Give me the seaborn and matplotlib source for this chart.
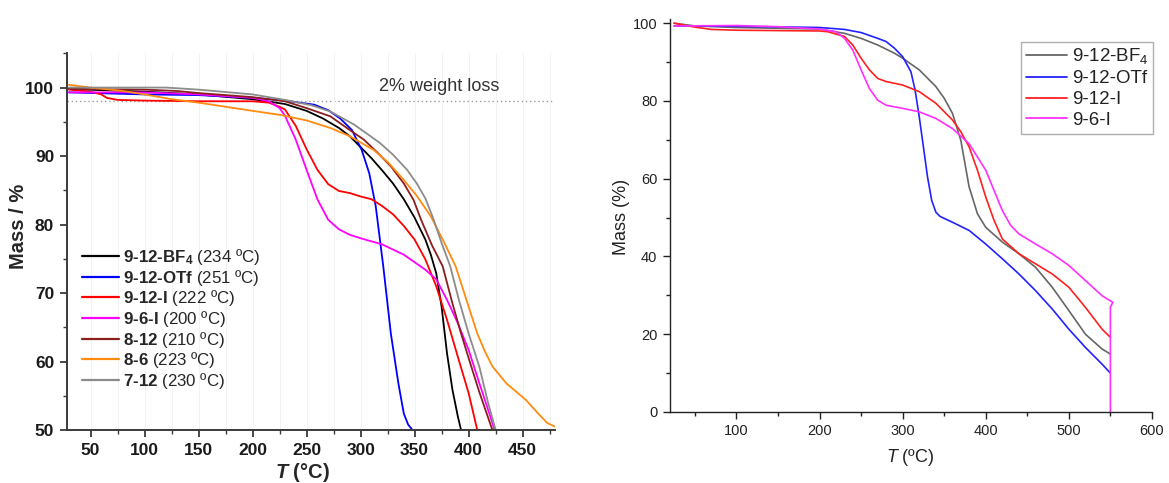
import matplotlib
matplotlib.use("Agg")
import matplotlib.pyplot as plt
from matplotlib.ticker import MultipleLocator
import pandas as pd
import seaborn as sns

# ---------------- data: TGA traces (temperature in °C, residual mass in %) ----------------
# Panel (a): all salts, 30-480 °C
bf4_T = [30, 100, 150, 200, 230, 250, 265, 280, 290, 300, 310, 320, 330, 340, 350, 360, 365, 370, 375, 380, 385, 390, 393]
bf4_m = [99.8, 99.4, 99.0, 98.3, 97.6, 96.6, 95.5, 94.1, 92.9, 91.3, 89.7, 87.9, 86.0, 83.7, 81.0, 77.8, 75.6, 72.9, 68.0, 61.2, 55.9, 52.0, 50.0]

otf_T = [30, 100, 150, 200, 230, 257, 270, 281, 292, 301, 308, 314, 321, 328, 335, 340, 344, 348]
otf_m = [99.3, 99.0, 98.9, 98.5, 98.1, 97.5, 96.7, 95.5, 93.8, 90.9, 87.5, 82.7, 73.9, 64.1, 56.8, 52.4, 50.8, 50.0]

i12_T = [30, 50, 60, 65, 75, 100, 150, 200, 215, 225, 230, 240, 250, 260, 270, 280, 290, 300, 310, 320, 330, 340, 350, 360, 370, 380, 390, 400, 408]
i12_m = [99.7, 99.4, 99.0, 98.5, 98.2, 98.1, 98.0, 98.0, 97.8, 97.2, 96.8, 94.4, 91.0, 88.0, 85.9, 84.9, 84.6, 84.1, 83.7, 82.7, 81.5, 79.8, 77.8, 74.9, 71.0, 66.1, 60.7, 55.4, 50.0]

i6_T = [30, 100, 150, 200, 215, 225, 230, 240, 250, 260, 270, 280, 290, 300, 320, 340, 360, 370, 380, 390, 400, 410, 420, 424]
i6_m = [99.3, 99.3, 99.0, 98.5, 98.0, 97.0, 95.9, 92.4, 88.0, 83.7, 80.7, 79.3, 78.5, 78.0, 77.1, 75.6, 73.4, 72.0, 69.0, 65.6, 61.7, 56.8, 52.0, 50.0]

s812_T = [30, 100, 130, 150, 200, 230, 250, 272, 290, 303, 315, 328, 340, 349, 356, 366, 376, 385, 393, 400, 410, 422]
s812_m = [99.8, 99.7, 99.5, 99.2, 98.6, 98.0, 97.0, 95.8, 93.8, 92.4, 90.6, 88.5, 86.0, 83.6, 80.7, 77.0, 73.9, 68.5, 64.1, 60.5, 55.5, 50.0]

s86_T = [30, 50, 80, 100, 125, 150, 175, 200, 226, 250, 272, 290, 312, 326, 340, 352, 365, 377, 388, 398, 408, 415, 422, 435, 453, 465, 473, 480]
s86_m = [100.4, 100.0, 99.5, 99.0, 98.3, 97.8, 97.2, 96.6, 96.0, 95.2, 94.1, 92.9, 90.9, 89.0, 86.5, 84.2, 81.2, 77.5, 73.9, 69.0, 64.1, 61.5, 59.3, 56.8, 54.4, 52.3, 51.0, 50.5]

s712_T = [30, 120, 150, 200, 230, 255, 272, 294, 318, 330, 343, 352, 360, 367, 375, 383, 391, 400, 410, 418, 425]
s712_m = [100.0, 100.0, 99.7, 99.0, 98.2, 97.4, 96.5, 94.6, 91.9, 90.2, 88.0, 86.0, 83.8, 81.0, 77.3, 73.9, 69.0, 64.1, 59.2, 54.0, 50.0]

names_a = ["9-12-BF4", "9-12-OTf", "9-12-I", "9-6-I", "8-12", "8-6", "7-12"]
bold_a = [r"9‐12‐BF_4", r"9‐12‐OTf", r"9‐12‐I", r"9‐6‐I", r"8‐12", r"8‐6", r"7‐12"]
onset_a = [234, 251, 222, 200, 210, 223, 230]
colors_a = ["#000000", "#0000ff", "#ff0000", "#ff00ff", "#8b1e1e", "#ff8c10", "#8c8c8c"]
series_a = [(bf4_T, bf4_m), (otf_T, otf_m), (i12_T, i12_m), (i6_T, i6_m),
            (s812_T, s812_m), (s86_T, s86_m), (s712_T, s712_m)]
loss_level = 98

# Panel (b): iodide / BF4 / OTf salts up to 550 °C
b_bf4_T = [25, 50, 100, 200, 230, 250, 270, 290, 300, 320, 340, 350, 360, 370, 375, 380, 390, 400, 420, 440, 460, 480, 500, 520, 540, 550]
b_bf4_m = [100.0, 99.3, 98.9, 98.5, 97.4, 96.1, 94.4, 92.3, 91.0, 88.0, 83.7, 80.7, 76.8, 69.9, 63.9, 57.9, 51.0, 47.5, 43.7, 40.7, 37.2, 32.1, 26.1, 20.0, 16.2, 14.9]

b_otf_T = [25, 100, 200, 230, 250, 270, 280, 290, 300, 310, 315, 320, 325, 330, 335, 340, 345, 360, 380, 400, 420, 440, 460, 480, 500, 520, 540, 550]
b_otf_m = [99.3, 99.2, 98.9, 98.4, 97.6, 96.1, 95.3, 93.6, 91.4, 87.5, 82.8, 75.9, 68.2, 60.4, 54.4, 51.4, 50.3, 48.8, 46.7, 43.2, 39.4, 35.5, 31.2, 26.5, 21.3, 16.6, 12.3, 10.0]

b_i12_T = [25, 50, 70, 100, 200, 210, 230, 240, 250, 260, 270, 280, 300, 320, 340, 360, 370, 380, 390, 400, 410, 420, 440, 460, 480, 500, 520, 540, 550]
b_i12_m = [100.0, 99.0, 98.4, 98.2, 98.0, 97.8, 96.6, 94.4, 91.0, 88.0, 85.8, 85.0, 84.1, 82.4, 79.4, 75.1, 72.1, 68.2, 62.2, 55.3, 49.3, 44.5, 40.7, 38.1, 35.5, 32.1, 26.9, 21.3, 19.2]

b_i6_T = [25, 100, 150, 200, 220, 230, 240, 250, 260, 270, 280, 300, 320, 340, 360, 380, 400, 410, 420, 430, 440, 460, 480, 500, 520, 540, 550, 553, 550, 550]
b_i6_m = [99.3, 99.4, 99.1, 98.5, 97.8, 96.1, 93.1, 88.0, 83.2, 80.2, 78.9, 78.1, 77.2, 75.5, 72.9, 69.0, 62.2, 57.0, 51.8, 48.0, 45.8, 43.2, 40.7, 37.7, 33.8, 29.9, 28.6, 28.2, 27.0, 0.0]

names_b = ["9-12-BF$_4$", "9-12-OTf", "9-12-I", "9-6-I"]
colors_b = ["#666666", "#2222ff", "#ff2020", "#ff30ff"]
series_b = [(b_bf4_T, b_bf4_m), (b_otf_T, b_otf_m), (b_i12_T, b_i12_m), (b_i6_T, b_i6_m)]


def long_frame(names, series):
    parts = []
    for n, (t, m) in zip(names, series):
        parts.append(pd.DataFrame({"T": t, "mass": m, "sample": n}))
    return pd.concat(parts, ignore_index=True)


df_a = long_frame(names_a, series_a)
df_b = long_frame(names_b, series_b)

# ---------------- styling ----------------
sns.set_theme(style="ticks")
plt.rcParams["font.family"] = ["Liberation Sans", "DejaVu Sans"]
plt.rcParams["mathtext.fontset"] = "custom"
plt.rcParams["mathtext.rm"] = "Liberation Sans"
plt.rcParams["mathtext.it"] = "Liberation Sans:italic"
plt.rcParams["mathtext.bf"] = "Liberation Sans:bold"
plt.rcParams["mathtext.bfit"] = "Liberation Sans:bold:italic"

fig = plt.figure(figsize=(11.69, 4.83), dpi=100)
ax1 = fig.add_axes([0.0571, 0.1097, 0.4177, 0.7799])
ax2 = fig.add_axes([0.5731, 0.147, 0.4123, 0.813])

# ---------------- left panel ----------------
sns.lineplot(data=df_a, x="T", y="mass", hue="sample", hue_order=names_a,
             palette=colors_a, sort=False, estimator=None, lw=1.3, ax=ax1, legend=False)
ax1.axhline(loss_level, color="#9a9a9a", lw=1.0, ls=(0, (1, 2)), zorder=0)
ax1.text(373, 100.1, "2% weight loss", ha="center", va="center", fontsize=13, color="#333333")

ax1.set_xlim(28, 480)
ax1.set_ylim(50, 105)
ax1.xaxis.set_major_locator(MultipleLocator(50))
ax1.xaxis.set_minor_locator(MultipleLocator(25))
ax1.yaxis.set_major_locator(MultipleLocator(10))
ax1.yaxis.set_minor_locator(MultipleLocator(5))
ax1.grid(True, axis="x", which="both", color="#f2f2f2", lw=0.7)
ax1.set_axisbelow(True)
for s in ["top", "right"]:
    ax1.spines[s].set_visible(False)
for s in ["left", "bottom"]:
    ax1.spines[s].set_color("#3a3a3a")
    ax1.spines[s].set_linewidth(1.4)
ax1.tick_params(which="major", direction="out", length=5, width=1.3, color="#3a3a3a",
                labelsize=12.5, labelcolor="#1a1a1a", pad=4)
ax1.tick_params(which="minor", direction="out", length=3, width=1.0, color="#3a3a3a")
for lab in ax1.get_xticklabels() + ax1.get_yticklabels():
    lab.set_fontweight("bold")
ax1.set_xlabel(r"$\mathbfit{T}$ (°C)", fontsize=14.5, fontweight="bold", va="center")
ax1.set_ylabel("Mass / %", fontsize=14.5, fontweight="bold", va="center")
ax1.xaxis.set_label_coords(0.482, -0.114)
ax1.yaxis.set_label_coords(-0.099, 0.54)

handles_a = [plt.Line2D([], [], color=c, lw=1.6) for c in colors_a]
labels_a = [rf"$\mathbf{{{b}}}$ ({t} ºC)" for b, t in zip(bold_a, onset_a)]
ax1.legend(handles_a, labels_a, loc="upper left", bbox_to_anchor=(0.031, 0.486),
           frameon=False, fontsize=12.2, labelspacing=0.04, handlelength=2.2,
           handletextpad=0.25, borderpad=0, borderaxespad=0)

# ---------------- right panel ----------------
sns.lineplot(data=df_b, x="T", y="mass", hue="sample", hue_order=names_b,
             palette=colors_b, sort=False, estimator=None, lw=1.2, ax=ax2, legend=False)
ax2.set_xlim(20, 600)
ax2.set_ylim(0, 101)
ax2.xaxis.set_major_locator(MultipleLocator(100))
ax2.xaxis.set_minor_locator(MultipleLocator(50))
ax2.yaxis.set_major_locator(MultipleLocator(20))
ax2.yaxis.set_minor_locator(MultipleLocator(10))
for s in ["top", "right"]:
    ax2.spines[s].set_visible(False)
for s in ["left", "bottom"]:
    ax2.spines[s].set_color("#222222")
    ax2.spines[s].set_linewidth(1.0)
ax2.tick_params(which="major", direction="out", length=5, width=1.0, color="#222222",
                labelsize=10.5, labelcolor="#222222", pad=4)
ax2.tick_params(which="minor", direction="out", length=3, width=1.0, color="#222222")
ax2.set_xlabel(r"$\mathit{T}$ (ºC)", fontsize=13, color="#222222", va="center")
ax2.set_ylabel("Mass (%)", fontsize=13, color="#222222", va="center")
ax2.xaxis.set_label_coords(0.498, -0.115)
ax2.yaxis.set_label_coords(-0.10, 0.497)

handles_b = [plt.Line2D([], [], color=c, lw=1.3) for c in colors_b]
leg = ax2.legend(handles_b, names_b, loc="upper right", bbox_to_anchor=(1.003, 0.943),
                 frameon=True, fancybox=False, fontsize=13.5, labelspacing=0.2,
                 handlelength=2.2, handletextpad=0.25, borderpad=0.25, borderaxespad=0)
leg.get_frame().set_edgecolor("#9a9a9a")
leg.get_frame().set_linewidth(1.0)
for t in leg.get_texts():
    t.set_color("#222222")

fig.savefig("out.png", dpi=100)
